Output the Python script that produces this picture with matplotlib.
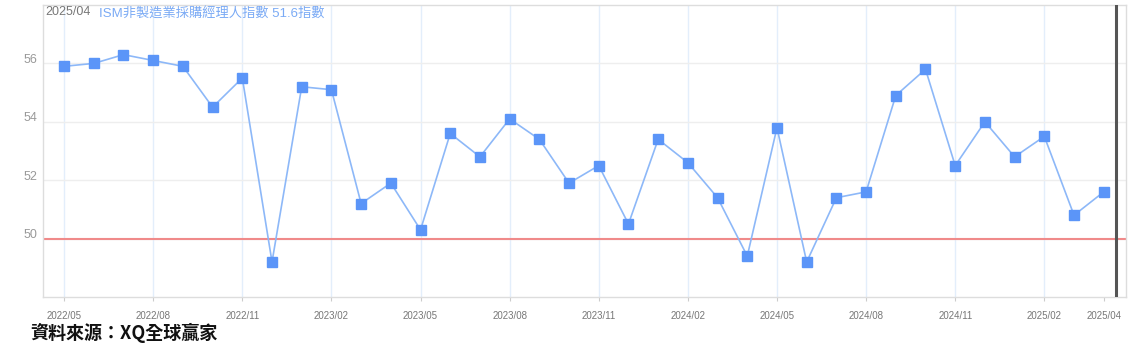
import matplotlib.pyplot as plt
from matplotlib.transforms import ScaledTranslation

plt.rcParams['font.family'] = ['Liberation Sans', 'Noto Sans CJK TC', 'DejaVu Sans']

# monthly ISM services PMI, 2022/05 .. 2025/04
months = ["2022/05", "2022/06", "2022/07", "2022/08", "2022/09", "2022/10",
          "2022/11", "2022/12", "2023/01", "2023/02", "2023/03", "2023/04",
          "2023/05", "2023/06", "2023/07", "2023/08", "2023/09", "2023/10",
          "2023/11", "2023/12", "2024/01", "2024/02", "2024/03", "2024/04",
          "2024/05", "2024/06", "2024/07", "2024/08", "2024/09", "2024/10",
          "2024/11", "2024/12", "2025/01", "2025/02", "2025/03", "2025/04"]
pmi = [55.9, 56.0, 56.3, 56.1, 55.9, 54.5, 55.5, 49.2, 55.2, 55.1, 51.2, 51.9,
       50.3, 53.6, 52.8, 54.1, 53.4, 51.9, 52.5, 50.5, 53.4, 52.6, 51.4, 49.4,
       53.8, 49.2, 51.4, 51.6, 54.9, 55.8, 52.5, 54.0, 52.8, 53.5, 50.8, 51.6]
tick_labels = ["2022/05", "2022/08", "2022/11", "2023/02", "2023/05", "2023/08",
               "2023/11", "2024/02", "2024/05", "2024/08", "2024/11", "2025/02",
               "2025/04"]
y_ticks = [50, 52, 54, 56]
threshold = 50

x = list(range(len(months)))
tick_pos = [months.index(t) for t in tick_labels]

fig = plt.figure(figsize=(11.38, 3.63), dpi=100)
ax = fig.add_axes([43 / 1138, 1 - 297 / 363, (1126 - 43) / 1138, (297 - 5) / 363])

ax.set_xlim(-0.71, 35.75)
ax.set_ylim(48, 58)

# grid
for t in tick_pos[:-1]:
    ax.axvline(t, color="#e3eefb", linewidth=1, zorder=0)
for yv in y_ticks:
    ax.axhline(yv, color="#eeeeee", linewidth=1, zorder=0)

ax.axhline(threshold, color="#f08a8a", linewidth=1.5, zorder=1)

ax.plot(x, pmi, color="#8db8f8", linewidth=1.2, marker="s", markersize=6.8,
        markerfacecolor="#5b95f8", markeredgecolor="#5b95f8", zorder=3)

# cursor line at latest month
ax.axvline(35.4, color="#555555", linewidth=2.2, zorder=4)

ax.set_xticks(tick_pos)
ax.set_xticklabels(tick_labels, fontsize=7, color="#777777")
ax.set_yticks(y_ticks)
ax.set_yticklabels([str(v) for v in y_ticks], fontsize=9, color="#999999")
ax.tick_params(axis="x", length=3, color="#cccccc", pad=7)
ax.tick_params(axis="y", length=0, pad=4)
offset = ScaledTranslation(0, 5 / 100, fig.dpi_scale_trans)
for lbl in ax.get_yticklabels():
    lbl.set_transform(lbl.get_transform() + offset)

for side in ["left", "top", "right", "bottom"]:
    ax.spines[side].set_color("#dddddd")
    ax.spines[side].set_linewidth(1)

ax.text(0.002, 0.995, "2025/04", transform=ax.transAxes, ha="left", va="top",
        fontsize=9, color="#777777")
ax.text(0.052, 0.995, "ISM非製造業採購經理人指數 51.6指數", transform=ax.transAxes,
        ha="left", va="top", fontsize=9.5, color="#7aaaf5",
        family=["Liberation Sans", "Noto Sans CJK TC"])

fig.text(30 / 1138, 1 - 333 / 363, "資料來源：XQ全球贏家", ha="left", va="center",
         fontsize=13, color="#111111", fontweight="bold",
         family=["Noto Sans CJK TC", "DejaVu Sans"])

fig.savefig("out.png", dpi=100)
